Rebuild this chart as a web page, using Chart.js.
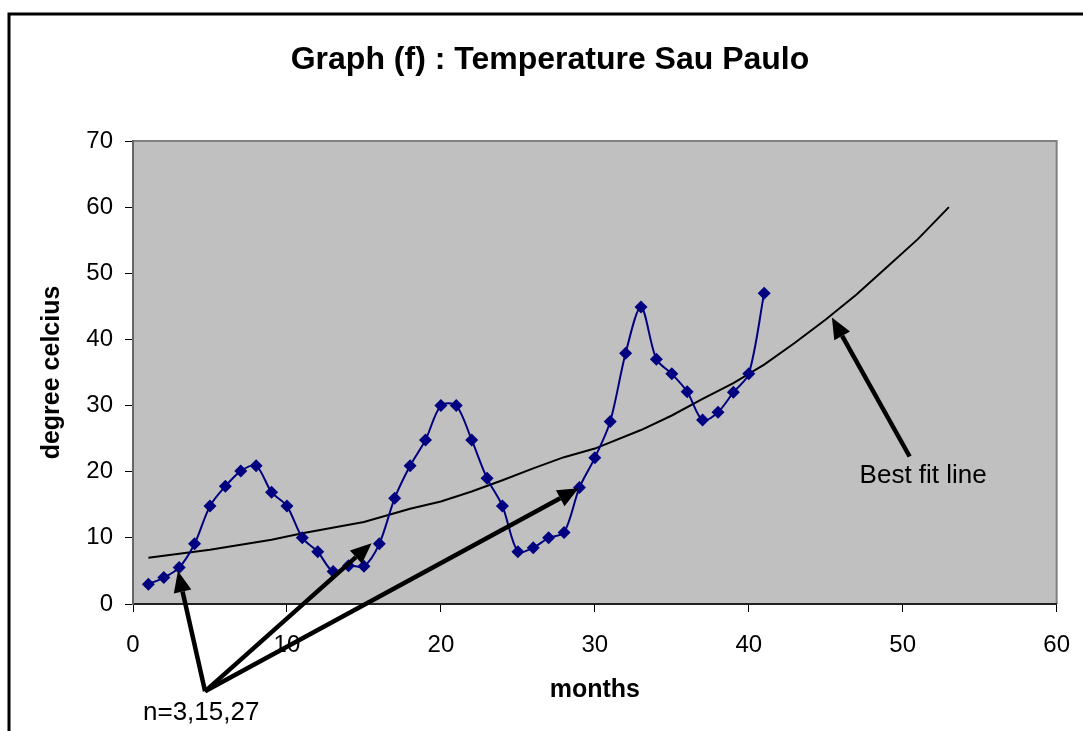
<!DOCTYPE html>
<html>
<head>
<meta charset="utf-8">
<title>Graph (f) : Temperature Sau Paulo</title>
<script src="https://cdn.jsdelivr.net/npm/chart.js@4.4.1/dist/chart.umd.min.js"></script>
<style>
  html, body { margin: 0; padding: 0; background: #fff; }
  canvas { display: block; }
</style>
</head>
<body>
<canvas id="tempChart" width="1083" height="731"></canvas>
<script>
// monthly readings
var months = [1, 2, 3, 4, 5, 6, 7, 8, 9, 10, 11, 12, 13, 14, 15, 16, 17, 18, 19, 20,
              21, 22, 23, 24, 25, 26, 27, 28, 29, 30, 31, 32, 33, 34, 35, 36, 37, 38, 39, 40, 41];
var temperature = [3, 4, 5.5, 9.1, 14.8, 17.8, 20.1, 20.9, 16.9, 14.8, 10, 7.9, 4.9, 5.8, 5.7, 9.1, 16, 20.9, 24.8, 30,
                   30, 24.8, 19, 14.8, 7.9, 8.5, 10, 10.8, 17.6, 22.1, 27.6, 37.9, 44.9, 37, 34.8, 32.1, 27.8, 29, 32, 34.8, 47];

// best fit line
var fitMonths = [1, 5, 9, 11, 15, 18, 20, 22, 24, 26, 28, 30, 33, 35, 37, 39, 41, 43, 45, 47, 49, 51, 53];
var fitValues = [7.0, 8.2, 9.7, 10.7, 12.4, 14.4, 15.5, 17.0, 18.7, 20.5, 22.2, 23.5, 26.3, 28.5, 31.0, 33.4, 36.2, 39.5, 43.0, 46.8, 51.0, 55.2, 60.0];

var xTicks = [0, 10, 20, 30, 40, 50, 60];
var yTicks = [0, 10, 20, 30, 40, 50, 60, 70];

// callouts in data units
var notes = [
    { text: "Best fit line", x: 47.2, y: 19.4 },
    { text: "n=3,15,27", x: 0.65, y: -16.4 }
];
var arrows = [
    { from: [50.45, 22.3], to: [45.4, 43.3] },
    { from: [4.68, -13.2], to: [2.92, 5.0] },
    { from: [4.68, -13.2], to: [15.5, 9.2] },
    { from: [4.68, -13.2], to: [28.95, 17.5] }
];

var fontFamily = "'Liberation Sans', Arial, sans-serif";
Chart.defaults.font.family = fontFamily;
Chart.defaults.color = '#000';

var framePlugin = {
    id: 'frame',
    beforeDraw: function(chart) {
        var ctx = chart.ctx, a = chart.chartArea;
        ctx.save();
        ctx.fillStyle = '#fff';
        ctx.fillRect(0, 0, chart.width, chart.height);
        ctx.strokeStyle = '#000';
        ctx.lineWidth = 3;
        ctx.strokeRect(9, 14, chart.width + 20, chart.height + 20);
        ctx.fillStyle = '#c0c0c0';
        ctx.fillRect(a.left, a.top, a.right - a.left, a.bottom - a.top);
        ctx.strokeStyle = '#808080';
        ctx.lineWidth = 2;
        ctx.beginPath();
        ctx.moveTo(a.left, a.top);
        ctx.lineTo(a.right, a.top);
        ctx.lineTo(a.right, a.bottom);
        ctx.stroke();
        ctx.restore();
    }
};

var calloutPlugin = {
    id: 'callouts',
    afterDraw: function(chart) {
        var ctx = chart.ctx;
        var xs = chart.scales.x, ys = chart.scales.y;
        ctx.save();
        ctx.fillStyle = '#000';
        ctx.strokeStyle = '#000';
        ctx.lineWidth = 4.5;
        arrows.forEach(function(ar) {
            var x0 = xs.getPixelForValue(ar.from[0]), y0 = ys.getPixelForValue(ar.from[1]);
            var x1 = xs.getPixelForValue(ar.to[0]), y1 = ys.getPixelForValue(ar.to[1]);
            var ang = Math.atan2(y1 - y0, x1 - x0);
            var headLen = 21, headW = 9;
            var bx = x1 - Math.cos(ang) * headLen, by = y1 - Math.sin(ang) * headLen;
            ctx.beginPath();
            ctx.moveTo(x0, y0);
            ctx.lineTo(bx, by);
            ctx.stroke();
            ctx.beginPath();
            ctx.moveTo(x1, y1);
            ctx.lineTo(bx + Math.sin(ang) * headW, by - Math.cos(ang) * headW);
            ctx.lineTo(bx - Math.sin(ang) * headW, by + Math.cos(ang) * headW);
            ctx.closePath();
            ctx.fill();
        });
        ctx.font = '26px ' + fontFamily;
        ctx.textAlign = 'left';
        ctx.textBaseline = 'middle';
        notes.forEach(function(n) {
            ctx.fillText(n.text, xs.getPixelForValue(n.x), ys.getPixelForValue(n.y));
        });
        ctx.restore();
    }
};

var ctx = document.getElementById('tempChart').getContext('2d');
var chart = new Chart(ctx, {
    type: 'line',
    data: {
        datasets: [{
            label: 'Temperature',
            data: months.map(function(m, i) { return { x: m, y: temperature[i] }; }),
            borderColor: '#000080',
            backgroundColor: '#000080',
            borderWidth: 2,
            pointStyle: 'rectRot',
            pointRadius: 6.5,
            pointBorderWidth: 0,
            tension: 0.3,
            fill: false
        }, {
            label: 'Best fit line',
            data: fitMonths.map(function(m, i) { return { x: m, y: fitValues[i] }; }),
            borderColor: '#000',
            borderWidth: 2,
            pointRadius: 0,
            tension: 0,
            fill: false
        }]
    },
    options: {
        responsive: false,
        animation: false,
        devicePixelRatio: 1,
        // left padding pushes the title to the same centre as the original
        layout: { padding: { left: 43, right: 26, top: 0, bottom: 0 } },
        plugins: {
            legend: { display: false },
            tooltip: { enabled: false },
            title: {
                display: true,
                text: 'Graph (f) : Temperature Sau Paulo',
                font: { size: 32, weight: 'bold' },
                color: '#000',
                padding: { top: 41, bottom: 61.6 }
            }
        },
        scales: {
            x: {
                type: 'linear',
                min: 0,
                max: 60,
                afterBuildTicks: function(s) { s.ticks = xTicks.map(function(v) { return { value: v }; }); },
                afterFit: function(s) { s.height = 127; },
                grid: { drawOnChartArea: false, drawTicks: true, tickLength: 8, color: '#000' },
                border: { display: true, color: '#222', width: 2 },
                // tall line height drops the labels without widening the right margin
                ticks: { font: { size: 24, lineHeight: 1.7 }, padding: 13, maxRotation: 0 },
                title: { display: true, text: 'months', font: { size: 25, weight: 'bold' }, padding: { top: 0, bottom: 26 } }
            },
            y: {
                type: 'linear',
                min: 0,
                max: 70,
                afterBuildTicks: function(s) { s.ticks = yTicks.map(function(v) { return { value: v }; }); },
                afterFit: function(s) { s.width = 90; },
                grid: { drawOnChartArea: false, drawTicks: true, tickLength: 8, color: '#000' },
                border: { display: true, color: '#666', width: 2 },
                ticks: { font: { size: 24 }, padding: 12 },
                title: { display: true, text: 'degree celcius', font: { size: 25, weight: 'bold' }, padding: { top: -6, bottom: 0 } }
            }
        }
    },
    plugins: [framePlugin, calloutPlugin]
});
</script>
</body>
</html>
